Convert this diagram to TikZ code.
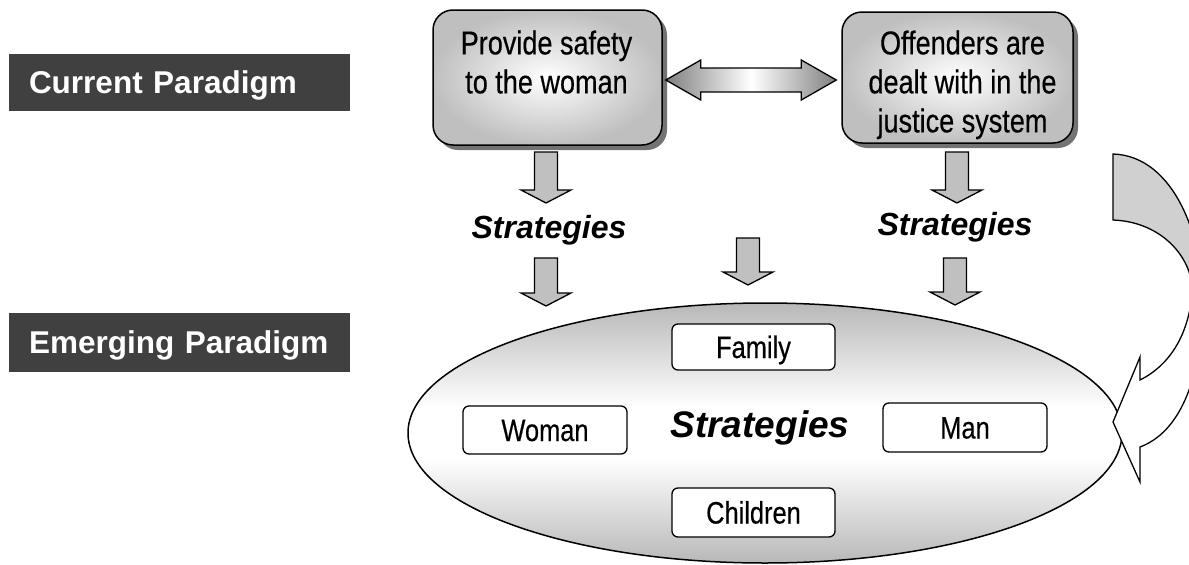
\documentclass[tikz,border=0pt]{standalone}
\usepackage{fontspec}
\setmainfont{Liberation Sans}
\newfontfamily\narrowfont[FakeStretch=0.82,FakeBold=0.4]{Liberation Sans}
\usetikzlibrary{shadows,calc,shapes.geometric}
\definecolor{darklab}{HTML}{404040}
\definecolor{arrowgray}{HTML}{C0C0C0}
\definecolor{bandgray}{HTML}{D0D0D0}
\definecolor{ellgray}{HTML}{B8B8B8}
\pgfdeclareverticalshading{ellvshade}{100bp}{color(0bp)=(ellgray); color(25bp)=(ellgray); color(45bp)=(white); color(55bp)=(white); color(75bp)=(ellgray); color(100bp)=(ellgray)}
\tikzset{
  pics/downarrow/.style={code={
    \draw[fill=arrowgray, line width=1.3pt, line join=miter] (-11.5,0) -- (11.5,0) -- (11.5,#1-13) -- (25,#1-13) -- (0,#1) -- (-25,#1-13) -- (-11.5,#1-13) -- cycle;
  }},
  paradigm/.style={fill=darklab, text=white, font=\fontsize{31.5}{36}\selectfont\bfseries,
    minimum height=57pt, inner xsep=20pt, inner ysep=0pt, text width=301pt, align=left,
    text height=22.5pt, text depth=0pt},
  topbox/.style={draw, line width=1.5pt, rounded corners=20pt, inner color=white, outer color=gray!50,
    drop shadow={shadow xshift=5pt, shadow yshift=-5pt, fill=black!55, opacity=1}},
  boxtext/.style={font=\narrowfont\fontsize{33}{39}\selectfont, align=center, anchor=north, inner sep=0pt},
  stratlabel/.style={font=\fontsize{32}{38}\selectfont\bfseries\itshape, anchor=base, inner sep=0pt},
  smallbox/.style={draw, fill=white, line width=1.3pt, rounded corners=6pt, font=\narrowfont\fontsize{31}{36}\selectfont,
    text height=22pt, text depth=0pt, inner sep=0pt}
}
\begin{document}
\begin{tikzpicture}[x=1pt,y=-1pt]
\useasboundingbox (0,0) rectangle (1189,565);

% paradigm labels
\node[paradigm] (cur) at (179.5,82) {Current Paradigm};
\node[paradigm, minimum height=59pt] (emg) at (179.5,342.5) {Emerging Paradigm};

% top boxes
\node[topbox, minimum width=229pt, minimum height=135pt] (b1) at (547.5,77.5) {};
\node[topbox, minimum width=231pt, minimum height=131pt] (b2) at (957.5,77.5) {};
\node[boxtext] (t1) at ($(b1.north)+(-1,21)$) {Provide safety\\to the woman};
\node[boxtext] (t2) at ($(b2.north)+(5,19)$) {Offenders are\\dealt with in the\\justice system};

% double arrow
\path (b1.east) ++(3,2.5) coordinate (dl);
\path (b2.west) ++(-5,2.5) coordinate (dr);
\draw[line width=1.3pt, line join=miter, left color=black!50, right color=black!50, middle color=white]
  (dl) -- ++(35,-20) -- ++(0,8) -- ($(dr)+(-35,-12)$) -- ++(0,-8) -- (dr) -- ++(-35,20) -- ++(0,-8)
  -- ($(dl)+(35,12)$) -- ++(0,8) -- cycle;

% ellipse
\node[ellipse, draw, line width=1.5pt, minimum width=714pt, minimum height=260pt,
  shading=ellvshade] (ell) at (765,433) {};

% down arrows
\pic at (546,152) {downarrow=51};
\pic at (957,152) {downarrow=51};
\pic at (546,258) {downarrow=48};
\pic at (748,238) {downarrow=47};
\pic at (955,258) {downarrow=47};

% strategies labels
\node[stratlabel] (s1) at (549,238) {Strategies};
\node[stratlabel] (s2) at (955,235) {Strategies};
\node[stratlabel, font=\fontsize{37}{42}\selectfont\bfseries\itshape] (s3) at (760,437) {Strategies};

% inner boxes
\node[smallbox, minimum width=163pt, minimum height=46pt] (fam) at (753.5,347) {Family};
\node[smallbox, minimum width=164pt, minimum height=48pt] (wom) at (545,430) {Woman};
\node[smallbox, minimum width=164pt, minimum height=49pt] (man) at (965,427.5) {Man};
\node[smallbox, minimum width=163pt, minimum height=49pt] (chi) at (753.5,512.5) {Children};

% curved arrow at right
\begin{scope}
\clip (0,0) rectangle (1189,565);
\draw[fill=bandgray, line width=1.3pt]
  (1113,154) .. controls (1175,156) and (1205,240) .. (1203,310)
  -- (1192,295) .. controls (1195,262) and (1165,222) .. (1113,220) -- cycle;
\draw[fill=white, line width=1.3pt, line join=miter]
  (1192,295) .. controls (1188,335) and (1170,365) .. (1140,380)
  -- (1140,357) -- (1113,422) -- (1140,482) -- (1140,447)
  .. controls (1180,432) and (1200,380) .. (1203,310) -- cycle;
\end{scope}
\end{tikzpicture}
\end{document}
